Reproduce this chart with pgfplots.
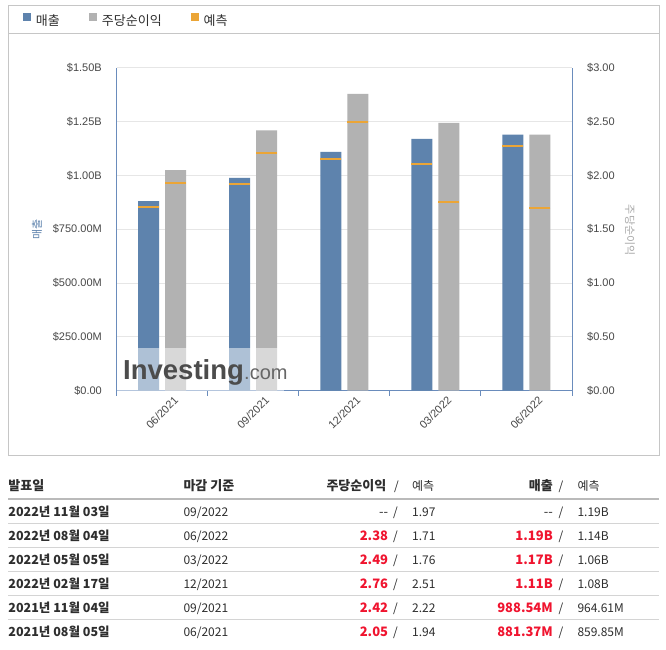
\documentclass[border=0pt]{standalone}
\usepackage{fontspec}
\setmainfont{Liberation Sans}
\newfontfamily\kr{Noto Sans CJK KR}
\usepackage{pgfplots}
\usepackage{pgfplotstable}
\pgfplotsset{compat=1.18}
\definecolor{rev}{HTML}{5E83AD}
\definecolor{eps}{HTML}{B2B2B2}
\definecolor{fc}{HTML}{EBA536}
\definecolor{axc}{HTML}{6A8CBC}
\definecolor{gridc}{HTML}{E6E6E6}
\definecolor{bordc}{HTML}{C6C6C6}
\definecolor{tickc}{HTML}{484848}
\definecolor{txt}{HTML}{2E2E2E}
\definecolor{redc}{HTML}{F0142F}
\definecolor{lbl}{HTML}{A9A9A9}

\pgfplotstableread{
x rev revf eps epsf
0 881.37 859.85 2.05 1.94
1 988.54 964.61 2.42 2.22
2 1110 1080 2.76 2.51
3 1170 1060 2.49 1.76
4 1190 1140 2.38 1.71
}\data

\pgfplotsset{common/.style={scale only axis, width=455.5pt, height=322.5pt,
  at={(116.5pt,258.5pt)}, anchor=south west, xmin=-0.5, xmax=4.5, ymin=0, clip=false,
  axis line style={axc, line width=1pt}}}

\newcommand\R[1]{\textcolor{redc}{\bfseries #1}}
\newcommand\tb{\kr\bfseries\fontsize{12.5}{14}\selectfont}
\newcommand\tr{\kr\fontsize{12}{14}\selectfont}
\newcommand\row[7]{%
  \node[anchor=base west, inner sep=0pt, text=txt] at (8.3pt,#1) {\tb #2};
  \node[anchor=base west, inner sep=0pt, text=txt] at (183.3pt,#1) {\tr #3};
  \node[anchor=base east, inner sep=0pt, text=txt] at (388.3pt,#1) {\tr\fontsize{13}{14}\selectfont #4};
  \node[anchor=base, inner sep=0pt, text=txt] at (395.5pt,#1) {\tr /};
  \node[anchor=base west, inner sep=0pt, text=txt] at (412pt,#1) {\tr #5};
  \node[anchor=base east, inner sep=0pt, text=txt] at (553pt,#1) {\tr\fontsize{13}{14}\selectfont #6};
  \node[anchor=base, inner sep=0pt, text=txt] at (561pt,#1) {\tr /};
  \node[anchor=base west, inner sep=0pt, text=txt] at (577.3pt,#1) {\tr #7};
}

\begin{document}
\begin{tikzpicture}
\useasboundingbox (0,0) rectangle (666pt,649pt);
\fill[white] (0,0) rectangle (666pt,649pt);
% chart frame
\draw[bordc, line width=1pt] (8.3pt,193.7pt) rectangle (659pt,643.3pt);
\draw[bordc, line width=1pt] (8.3pt,615pt) -- (659pt,615pt);

\begin{axis}[common, ymax=1500,
  axis lines*=left,
  ytick={0,250,...,1500},
  yticklabels={\$0.00,\$250.00M,\$500.00M,\$750.00M,\$1.00B,\$1.25B,\$1.50B},
  ymajorgrids, grid style={gridc, line width=1pt},
  xtick={0,...,4},
  xticklabels={06/2021,09/2021,12/2021,03/2022,06/2022},
  minor xtick={-0.5,0.5,...,4.5},
  major tick length=0pt, minor tick length=5pt, tick align=outside,
  minor tick style={axc, line width=1pt},
  yticklabel style={anchor=east, inner sep=0pt, xshift=-14.5pt, font=\fontsize{11}{13}\selectfont, text=tickc},
  xticklabel style={yshift=-22pt, rotate=45, anchor=center, inner sep=0pt, font=\fontsize{11}{13}\selectfont, text=tickc},
  ylabel={매출},
  every axis y label/.style={at={(axis description cs:-0.1745,0.5)}, rotate=90, anchor=center, font=\kr\fontsize{11}{13}\selectfont, text=rev},
  legend style={draw=none, fill=none, at={(-0.20527,1.149)}, anchor=west, legend columns=-1,
    inner sep=0pt, outer sep=0pt, font=\kr\fontsize{13}{15}\selectfont, text=txt,
    nodes={inner sep=0pt},
    /tikz/every odd column/.append style={column sep=5pt},
    /tikz/every even column/.append style={column sep=29pt}},
  legend image code/.code={\fill[#1] (0pt,0.7pt) rectangle (8pt,8.7pt);},
]
\addplot[ybar, fill=rev, draw=none, bar width=21pt, bar shift=-13.5pt, forget plot] table[x=x, y=rev] {\data};
\addplot[only marks, mark=-, mark size=10.5pt, mark options={draw=fc, line width=2pt, yshift=-1pt}, forget plot]
  table[x expr=\thisrow{x}-0.1482, y=revf] {\data};
\addlegendimage{fill=rev, draw=none}
\addlegendentry{매출}
\addlegendimage{fill=eps, draw=none}
\addlegendentry{주당순이익}
\addlegendimage{fill=fc, draw=none}
\addlegendentry{예측}
\end{axis}

\begin{axis}[common, ymax=3,
  axis y line*=right, axis x line=none,
  ytick={0,0.5,...,3},
  yticklabels={\$0.00,\$0.50,\$1.00,\$1.50,\$2.00,\$2.50,\$3.00},
  major tick length=0pt,
  yticklabel style={anchor=west, inner sep=0pt, xshift=15pt, font=\fontsize{11}{13}\selectfont, text=tickc},
  ylabel={주당순이익},
  every axis y label/.style={at={(axis description cs:1.1273,0.497)}, rotate=-90, anchor=center, font=\kr\fontsize{11}{13}\selectfont, text=lbl},
]
\addplot[ybar, fill=eps, draw=none, bar width=21pt, bar shift=13.5pt] table[x=x, y=eps] {\data};
\addplot[only marks, mark=-, mark size=10.5pt, mark options={draw=fc, line width=2pt, yshift=-1pt}]
  table[x expr=\thisrow{x}+0.1482, y=epsf] {\data};
\end{axis}

% watermark
\fill[white, opacity=0.5] (117.2pt,258.5pt) rectangle (284pt,301.3pt);
\node[anchor=base west, inner sep=0pt, text=black!70] at (123pt,270pt) {\fontsize{27.5}{30}\selectfont\bfseries Investing};
\node[anchor=base west, inner sep=0pt, text=black!60] at (244pt,270pt) {\fontsize{20}{22}\selectfont .com};

% table header
\node[anchor=base west, inner sep=0pt, text=txt] at (8.3pt,159pt) {\kr\bfseries\fontsize{13}{14}\selectfont 발표일};
\node[anchor=base west, inner sep=0pt, text=txt] at (183.3pt,159pt) {\kr\bfseries\fontsize{13}{14}\selectfont 마감 기준};
\node[anchor=base east, inner sep=0pt, text=txt] at (386.5pt,159pt) {\kr\bfseries\fontsize{13}{14}\selectfont 주당순이익};
\node[anchor=base, inner sep=0pt, text=txt] at (396.5pt,159pt) {\tr /};
\node[anchor=base west, inner sep=0pt, text=txt] at (412pt,159pt) {\tr 예측};
\node[anchor=base east, inner sep=0pt, text=txt] at (553pt,159pt) {\kr\bfseries\fontsize{13}{14}\selectfont 매출};
\node[anchor=base, inner sep=0pt, text=txt] at (561pt,159pt) {\tr /};
\node[anchor=base west, inner sep=0pt, text=txt] at (577.3pt,159pt) {\tr 예측};
\draw[black!27, line width=2.5pt] (8.3pt,150.2pt) -- (659pt,150.2pt);
\foreach \yy in {125.7,101.7,77.7,53.7,29.7} \draw[black!17, line width=1pt] (8.3pt,\yy pt) -- (659pt,\yy pt);

\row{132.5pt}{2022년 11월 03일}{09/2022}{--}{1.97}{--}{1.19B}
\row{108.5pt}{2022년 08월 04일}{06/2022}{\R{2.38}}{1.71}{\R{1.19B}}{1.14B}
\row{84.5pt}{2022년 05월 05일}{03/2022}{\R{2.49}}{1.76}{\R{1.17B}}{1.06B}
\row{60.5pt}{2022년 02월 17일}{12/2021}{\R{2.76}}{2.51}{\R{1.11B}}{1.08B}
\row{36.5pt}{2021년 11월 04일}{09/2021}{\R{2.42}}{2.22}{\R{988.54M}}{964.61M}
\row{12.5pt}{2021년 08월 05일}{06/2021}{\R{2.05}}{1.94}{\R{881.37M}}{859.85M}
\end{tikzpicture}
\end{document}
